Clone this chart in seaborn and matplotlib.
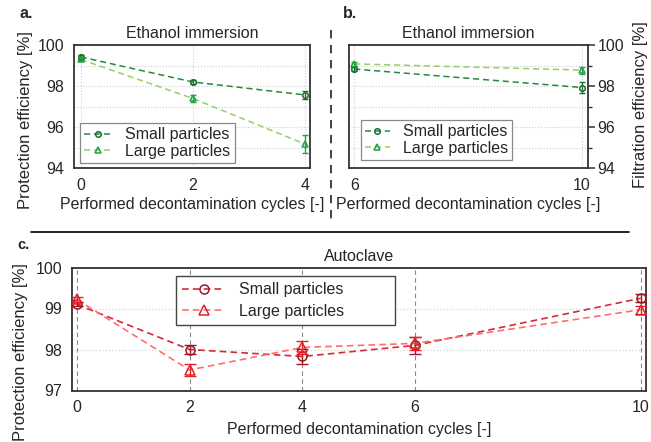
import numpy as np
import pandas as pd
import matplotlib
matplotlib.use("Agg")
import matplotlib.pyplot as plt
from matplotlib.ticker import MultipleLocator
import seaborn as sns

sns.set_style("white")
plt.rcParams['font.family'] = ['Liberation Sans', 'DejaVu Sans']
FS = 11.5

# ---- data ----
cycles_a = [0, 2, 4]
small_a = [99.42, 98.2, 97.57]
small_a_err = [0.08, 0.1, 0.18]
large_a = [99.3, 97.4, 95.18]
large_a_err = [0.1, 0.18, 0.42]

cycles_b = [6, 10]
small_b = [98.83, 97.93]
small_b_err = [0.08, 0.25]
large_b = [99.08, 98.78]
large_b_err = [0.08, 0.17]

cycles_c = [0, 2, 4, 6, 10]
small_c = [99.1, 98.0, 97.83, 98.1, 99.25]
small_c_err = [0.05, 0.12, 0.18, 0.2, 0.1]
large_c = [99.22, 97.5, 98.05, 98.15, 98.97]
large_c_err = [0.06, 0.15, 0.15, 0.15, 0.1]

labels = ["Small particles", "Large particles"]
title_eth = "Ethanol immersion"
title_auto = "Autoclave"
xlab = "Performed decontamination cycles [-]"

G_SMALL_LINE, G_SMALL_MK = "#238b3e", "#1b6e30"
G_LARGE_LINE, G_LARGE_MK = "#93d163", "#22a247"
R_SMALL_LINE, R_SMALL_MK = "#d42a36", "#9c1822"
R_LARGE_LINE, R_LARGE_MK = "#ff6e6e", "#e4202a"

W, H = 651, 442
fig = plt.figure(figsize=(W / 100, H / 100), dpi=100)

def frac(l, r, t, b):
    return [l / W, 1 - b / H, (r - l) / W, (b - t) / H]

ax_a = fig.add_axes(frac(74, 310, 45, 168.3))
ax_b = fig.add_axes(frac(349, 587.7, 45, 168.3))
ax_c = fig.add_axes(frac(71.7, 645.7, 267.5, 390.5))


def draw(ax, x, y, err, line_c, mk_c, marker, ms, cap, label, lw=1.1):
    df = pd.DataFrame({"x": x, "y": y})
    sns.lineplot(data=df, x="x", y="y", ax=ax, color=line_c, linestyle=(0, (4, 2.5)),
                 linewidth=lw, marker=marker, markersize=ms, markerfacecolor="none",
                 markeredgecolor=mk_c, markeredgewidth=1.1, label=label, zorder=3)
    ax.errorbar(x, y, yerr=err, fmt="none", ecolor=mk_c, elinewidth=1.0,
                capsize=cap, capthick=1.0, zorder=4)


def style_axes(ax):
    for s in ax.spines.values():
        s.set_color("#333333")
        s.set_linewidth(1.3)
        s.set_visible(True)
    ax.tick_params(axis="both", which="major", direction="out", length=5, width=1.1,
                   color="#333333", labelsize=FS, pad=2)
    ax.tick_params(axis="both", which="minor", direction="out", length=3, width=1.0,
                   color="#333333")
    ax.set_xlabel("")
    ax.set_ylabel("")


# panel a
draw(ax_a, cycles_a, small_a, small_a_err, G_SMALL_LINE, G_SMALL_MK, "o", 4, 2, labels[0])
draw(ax_a, cycles_a, large_a, large_a_err, G_LARGE_LINE, G_LARGE_MK, "^", 4.5, 2, labels[1])
ax_a.set_xlim(-0.12, 4.09)
ax_a.set_ylim(94, 100)
ax_a.set_xticks(cycles_a)
ax_a.yaxis.set_major_locator(MultipleLocator(2))
ax_a.yaxis.set_minor_locator(MultipleLocator(1))
style_axes(ax_a)
ax_a.grid(True, which="both", axis="y", color="#cfcfcf", linestyle=":", linewidth=0.8)
ax_a.grid(True, which="major", axis="x", color="#cfcfcf", linestyle=":", linewidth=0.8)
ax_a.set_title(title_eth, fontsize=FS, pad=5)
ax_a.set_xlabel(xlab, fontsize=FS, labelpad=3)
ax_a.set_ylabel("Protection efficiency [%]", fontsize=12)
ax_a.yaxis.set_label_coords(-0.172, 0.39)
leg = ax_a.legend(loc="lower left", bbox_to_anchor=(0.025, 0.043), borderaxespad=0,
                  fontsize=FS, handlelength=1.8, handletextpad=0.8, borderpad=0.25,
                  labelspacing=0.1, fancybox=False, edgecolor="#888888", framealpha=1)
leg.get_frame().set_linewidth(0.9)

# panel b
draw(ax_b, cycles_b, small_b, small_b_err, G_SMALL_LINE, G_SMALL_MK, "o", 4, 2, labels[0])
draw(ax_b, cycles_b, large_b, large_b_err, G_LARGE_LINE, G_LARGE_MK, "^", 4.5, 2, labels[1])
ax_b.set_xlim(5.907, 10.1)
ax_b.set_ylim(94, 100)
ax_b.set_xticks(cycles_b)
ax_b.yaxis.set_major_locator(MultipleLocator(2))
ax_b.yaxis.set_minor_locator(MultipleLocator(1))
ax_b.yaxis.tick_right()
ax_b.yaxis.set_label_position("right")
style_axes(ax_b)
ax_b.grid(True, which="both", axis="y", color="#cfcfcf", linestyle=":", linewidth=0.8)
ax_b.grid(True, which="major", axis="x", color="#cfcfcf", linestyle=":", linewidth=0.8)
ax_b.set_title(title_eth, fontsize=FS, pad=5)
ax_b.set_xlabel(xlab, fontsize=FS, labelpad=3)
ax_b.set_ylabel("Filtration efficiency [%]", fontsize=12)
ax_b.yaxis.set_label_coords(1.19, 0.52)
leg = ax_b.legend(loc="lower left", bbox_to_anchor=(0.049, 0.067), borderaxespad=0,
                  fontsize=FS, handlelength=1.6, handletextpad=0.8, borderpad=0.25,
                  labelspacing=0.1, fancybox=False, edgecolor="#888888", framealpha=1)
leg.get_frame().set_linewidth(0.9)

# panel c
draw(ax_c, cycles_c, small_c, small_c_err, R_SMALL_LINE, R_SMALL_MK, "o", 6.5, 4, labels[0], lw=1.2)
draw(ax_c, cycles_c, large_c, large_c_err, R_LARGE_LINE, R_LARGE_MK, "^", 7, 4, labels[1], lw=1.2)
ax_c.set_xlim(-0.09, 10.09)
ax_c.set_ylim(97, 100)
ax_c.set_xticks(cycles_c)
ax_c.yaxis.set_major_locator(MultipleLocator(1))
ax_c.yaxis.set_minor_locator(MultipleLocator(0.5))
style_axes(ax_c)
ax_c.grid(True, which="major", axis="y", color="#d5d5d5", linestyle=":", linewidth=0.9)
ax_c.grid(True, which="major", axis="x", color="#888888", linestyle=(0, (4, 3)), linewidth=0.8)
ax_c.set_title(title_auto, fontsize=FS, pad=5)
ax_c.set_xlabel(xlab, fontsize=FS, labelpad=5)
ax_c.set_ylabel("Protection efficiency [%]", fontsize=12)
ax_c.yaxis.set_label_coords(-0.076, 0.31)
leg = ax_c.legend(loc="upper left", bbox_to_anchor=(0.181, 0.5, 0.382, 0.431),
                  mode="expand", borderaxespad=0, fontsize=FS,
                  handlelength=2.7, handletextpad=0.9, borderpad=0.4, labelspacing=0.4,
                  fancybox=False, edgecolor="#444444", framealpha=1)
leg.get_frame().set_linewidth(1.0)

# panel letters and separators
fig.text(20 / W, 1 - 14 / H, "a.", fontsize=FS, fontweight="bold", ha="left", va="center")
fig.text(343 / W, 1 - 14 / H, "b.", fontsize=FS, fontweight="bold", ha="left", va="center")
fig.text(17 / W, 1 - 245 / H, "c.", fontsize=FS - 1, fontweight="bold", ha="left", va="center")
fig.add_artist(plt.Line2D([31 / W, 629 / W], [1 - 232 / H, 1 - 232 / H],
                          color="black", linewidth=1.2, transform=fig.transFigure))
fig.add_artist(plt.Line2D([331 / W, 331 / W], [1 - 30 / H, 1 - 222 / H],
                          color="#222222", linewidth=1.2, linestyle=(0, (5, 4)),
                          transform=fig.transFigure))

fig.savefig("out.png", dpi=100)
